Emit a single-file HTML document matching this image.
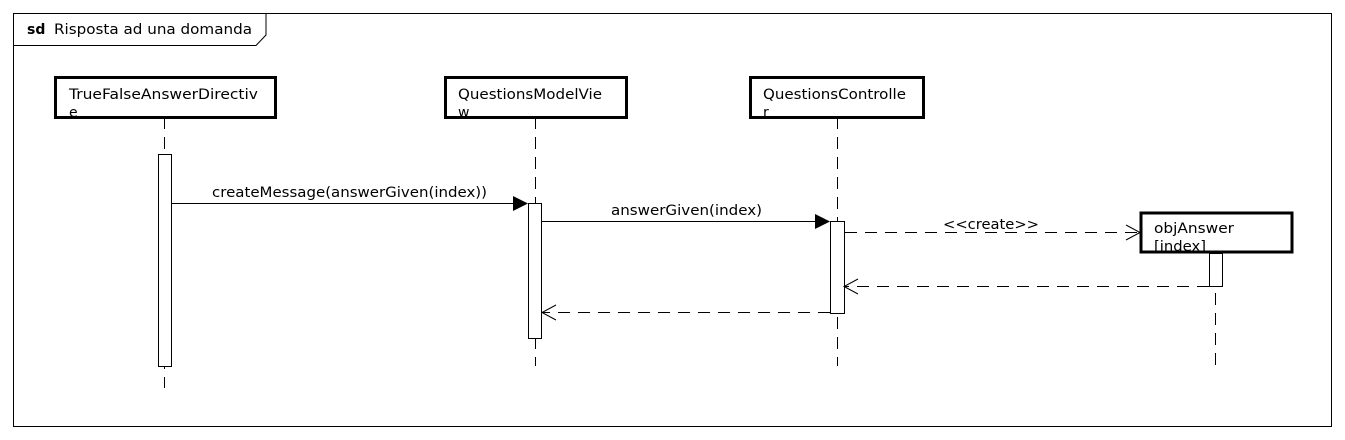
<!DOCTYPE html>
<html><head><meta charset="utf-8"><style>
html,body{margin:0;padding:0;background:#fff;}
svg{display:block;}
text{font-family:"DejaVu Sans","Liberation Sans",sans-serif;font-size:14px;fill:#000;}
</style></head><body>
<svg width="1345" height="440" viewBox="0 0 1345 440" xmlns="http://www.w3.org/2000/svg">
<rect x="13.5" y="13.5" width="1318" height="413" fill="#fff" stroke="#000" stroke-width="1"/>
<path d="M13.5 45.5 H256 L266 35 V13.5" fill="none" stroke="#000"/>
<text x="27" y="34"><tspan font-weight="bold">sd</tspan></text>
<text x="54" y="34" textLength="198" lengthAdjust="spacingAndGlyphs">Risposta ad una domanda</text>

<g stroke="#000" stroke-width="1" stroke-dasharray="12,8" fill="none">
<line x1="164.5" y1="117" x2="164.5" y2="388"/>
<line x1="535.5" y1="117" x2="535.5" y2="366"/>
<line x1="837.5" y1="117" x2="837.5" y2="366"/>
<line x1="1215.5" y1="253" x2="1215.5" y2="366"/>
</g>

<g fill="#fff" stroke="#000" stroke-width="3">
<rect x="55.5" y="77.5" width="220" height="40"/>
<rect x="445.5" y="77.5" width="181" height="40"/>
<rect x="750.5" y="77.5" width="173" height="40"/>
<rect x="1141" y="213" width="151" height="39"/>
</g>
<text x="69" y="99" textLength="189" lengthAdjust="spacingAndGlyphs">TrueFalseAnswerDirectiv</text>
<text x="69" y="117">e</text>
<text x="458" y="99" textLength="144" lengthAdjust="spacingAndGlyphs">QuestionsModelVie</text>
<text x="458" y="117">w</text>
<text x="763" y="99" textLength="143" lengthAdjust="spacingAndGlyphs">QuestionsControlle</text>
<text x="763" y="117">r</text>
<text x="1154" y="233" textLength="80" lengthAdjust="spacingAndGlyphs">objAnswer</text>
<text x="1154" y="251" textLength="52" lengthAdjust="spacingAndGlyphs">[index]</text>

<g fill="#fff" stroke="#000" stroke-width="1">
<rect x="158.5" y="154.5" width="13" height="212"/>
<rect x="528.5" y="203.5" width="13" height="135"/>
<rect x="830.5" y="221.5" width="14" height="92"/>
<rect x="1209.5" y="253.5" width="13" height="33"/>
</g>

<line x1="171" y1="203.5" x2="514" y2="203.5" stroke="#000"/>
<polygon points="513,196 528,203.5 513,211" fill="#000"/>
<text x="212" y="197" textLength="275" lengthAdjust="spacingAndGlyphs">createMessage(answerGiven(index))</text>

<line x1="542" y1="221.5" x2="816" y2="221.5" stroke="#000"/>
<polygon points="815,214 830,221.5 815,229" fill="#000"/>
<text x="611" y="215" textLength="151" lengthAdjust="spacingAndGlyphs">answerGiven(index)</text>

<g stroke="#000" fill="none">
<line x1="845" y1="232.5" x2="1139" y2="232.5" stroke-dasharray="12,8"/>
<polyline points="1126,225 1140,232.5 1126,240"/>
<line x1="1209" y1="286.5" x2="845" y2="286.5" stroke-dasharray="12,8"/>
<polyline points="858,279 844,286.5 858,294"/>
<line x1="830" y1="312.5" x2="542" y2="312.5" stroke-dasharray="12,8"/>
<polyline points="556,305 542,312.5 556,320"/>
</g>
<text x="943" y="229" textLength="96" lengthAdjust="spacingAndGlyphs">&lt;&lt;create&gt;&gt;</text>
</svg>
</body></html>
